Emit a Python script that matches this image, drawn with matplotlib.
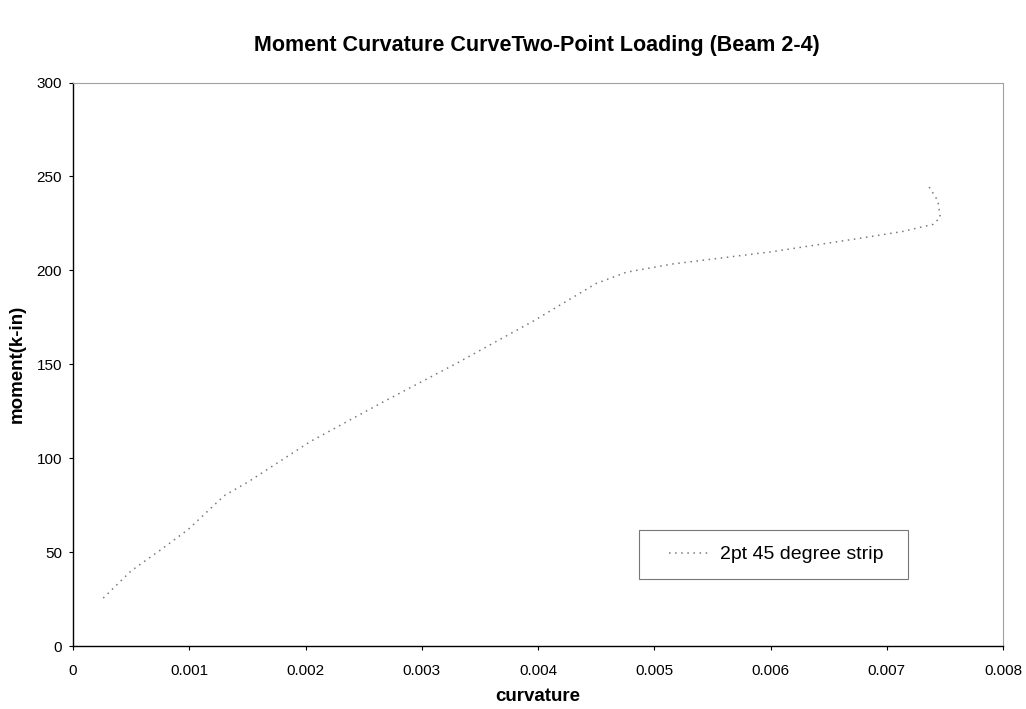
import matplotlib
matplotlib.use("Agg")
import matplotlib.pyplot as plt
from matplotlib.ticker import FixedLocator
from matplotlib.legend_handler import HandlerLine2D

plt.rcParams['font.family'] = ['Liberation Sans', 'DejaVu Sans']

curvature = [0.00026, 0.0005, 0.00075, 0.00099, 0.0013, 0.00151, 0.00204, 0.00267,
             0.0033, 0.00396, 0.0045, 0.00476, 0.00516, 0.0055, 0.006, 0.00673,
             0.00713, 0.0074, 0.00746, 0.00744, 0.00735]
moment = [25.5, 40, 51, 62, 80, 87.5, 108.8, 130, 150.5, 173, 193, 199, 203.4,
          206, 209.8, 216.7, 220.6, 224.5, 228.2, 237, 245.8]
series_label = "2pt 45 degree strip"
x_ticks = [0, 0.001, 0.002, 0.003, 0.004, 0.005, 0.006, 0.007, 0.008]
x_tick_labels = ["0", "0.001", "0.002", "0.003", "0.004", "0.005", "0.006", "0.007", "0.008"]
y_ticks = [0, 50, 100, 150, 200, 250, 300]


class OffsetLineHandler(HandlerLine2D):
    def __init__(self, offset, **kw):
        super().__init__(**kw)
        self.offset = offset

    def create_artists(self, legend, orig_handle, xdescent, ydescent, width, height,
                       fontsize, trans):
        return super().create_artists(legend, orig_handle, xdescent - self.offset,
                                      ydescent, width - self.offset, height,
                                      fontsize, trans)


W, H = 1026, 709
L, R, T, B = 73, 1003, 82.5, 646
fig = plt.figure(figsize=(W / 100, H / 100), dpi=100)
ax = fig.add_axes([L / W, 1 - B / H, (R - L) / W, (B - T) / H])

line, = ax.plot(curvature, moment, color='#7a7a7a', linestyle=(0, (1, 3)), linewidth=1.1,
                label=series_label)

ax.set_xlim(0, 0.008)
ax.set_ylim(0, 300)
ax.xaxis.set_major_locator(FixedLocator(x_ticks))
ax.set_xticklabels(x_tick_labels)
ax.yaxis.set_major_locator(FixedLocator(y_ticks))
ax.tick_params(axis='both', direction='out', length=3, width=0.8, labelsize=11, colors='black')
ax.tick_params(axis='x', pad=10)
ax.tick_params(axis='y', pad=5)

for side in ['left', 'bottom']:
    ax.spines[side].set_color('black')
    ax.spines[side].set_linewidth(1.0)
for side in ['top', 'right']:
    ax.spines[side].set_color('#a0a0a0')
    ax.spines[side].set_linewidth(0.8)
    ax.spines[side].set_linestyle((0, (2, 1)))

ax.set_xlabel("curvature", fontsize=13.5, fontweight='bold')
ax.set_ylabel("moment(k-in)", fontsize=13.5, fontweight='bold')
ax.xaxis.set_label_coords(0.5, -(688 - B) / (B - T))
ax.yaxis.set_label_coords((26 - L) / (R - L), 0.5)
fig.text(537 / W, 1 - 45 / H, "Moment Curvature CurveTwo-Point Loading (Beam 2-4)",
         ha='center', va='center', fontsize=15.5, fontweight='bold')

fs = 14
leg = ax.legend(handles=[line], labels=[series_label], loc='lower left',
                bbox_to_anchor=((639 - L) / (R - L), (B - 579) / (B - T),
                                (908 - 639) / (R - L), (579 - 531) / (B - T)),
                mode='expand', fontsize=fs, frameon=True, fancybox=False,
                handlelength=2.88, handletextpad=0.51, borderaxespad=0,
                borderpad=0.8,
                handler_map={line: OffsetLineHandler(offset=10.5)})
leg.get_frame().set_edgecolor('#555555')
leg.get_frame().set_linewidth(0.8)

fig.savefig("out.png", dpi=100)
